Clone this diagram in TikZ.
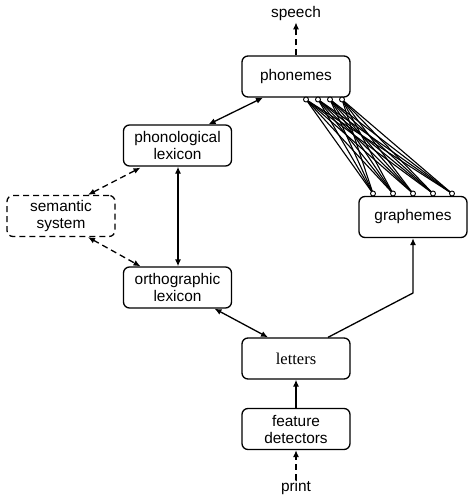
\documentclass[tikz,border=0pt]{standalone}
\usepackage{fontspec}
\setmainfont{Liberation Sans}
\newfontfamily\lettersfont{Liberation Serif}
\usetikzlibrary{arrows.meta,calc}
\begin{document}
\begin{tikzpicture}[x=1pt,y=-1pt,
  box/.style={draw,rounded corners=6pt,line width=1.3pt,minimum width=108pt,minimum height=41pt,inner sep=1pt,align=center,font=\fontsize{15.4}{17}\selectfont},
  dbox/.style={box,dashed,dash pattern=on 6pt off 4pt},
  lbl/.style={font=\fontsize{15.4}{17}\selectfont,inner sep=1pt},
  conn/.style={line width=1.3pt},
  tip/.style={-{Latex[length=7pt,width=6pt]}},
  tips/.style={{Latex[length=7pt,width=6pt]}-{Latex[length=7pt,width=6pt]}},
  dsh/.style={dash pattern=on 6pt off 4pt},
  port/.style={circle,draw,fill=white,line width=0.9pt,inner sep=0pt,minimum size=5pt}
]
\useasboundingbox (0,0) rectangle (474,503);

\node[box] (phon) at (296,76.5) {phonemes};
\node[box] (pl) at (177.5,145.5) {phonological\\lexicon};
\node[dbox] (sem) at (61,216) {semantic\\system};
\node[box] (ol) at (177.5,287.5) {orthographic\\lexicon};
\node[box] (graph) at (413,217) {graphemes};
\node[box] (let) at (296,358.5) {\lettersfont\fontsize{16.5}{18}\selectfont letters};
\node[box] (fd) at (296,429) {feature\\detectors};
\node[lbl] (speech) at (296,14) {speech};
\node[lbl] (print) at (296,488) {print};

% ports
\foreach \i/\x in {1/306,2/318,3/330,4/342}{\coordinate (p\i) at (\x,99.5);}
\foreach \i/\x in {1/373,2/393,3/413,4/433,5/452}{\coordinate (g\i) at (\x,193.5);}
\foreach \i in {1,...,4}{\foreach \j in {1,...,5}{\draw[line width=1.1pt] (p\i) -- (g\j);}}
\foreach \i in {1,...,4}{\node[port] at (p\i) {};}
\foreach \j in {1,...,5}{\node[port] at (g\j) {};}

% connectors
\draw[conn,tip,dsh] (phon.north) -- (speech.south);
\draw[conn,tips] ($(pl.north)+(31,0)$) -- ($(phon.south)+(-33,0)$);
\draw[conn,tips] ($(pl.south)+(0.5,0)$) -- ($(ol.north)+(0.5,0)$);
\draw[conn,tips,dsh] ($(sem.north)+(27,0)$) -- ($(pl.south)+(-37,1)$);
\draw[conn,tips,dsh] ($(sem.south)+(27,0)$) -- ($(ol.north)+(-37,0)$);
\draw[conn,tips] ($(ol.south)+(37,0)$) -- ($(let.north)+(-28,0)$);
\coordinate (bend) at (413,293);
\draw[conn,tip] ($(let.north)+(32,0)$) -- (bend) -- (graph.south);
\draw[conn,tip] (fd.north) -- (let.south);
\draw[conn,tip,dsh] (print.north) -- (fd.south);
\end{tikzpicture}
\end{document}
